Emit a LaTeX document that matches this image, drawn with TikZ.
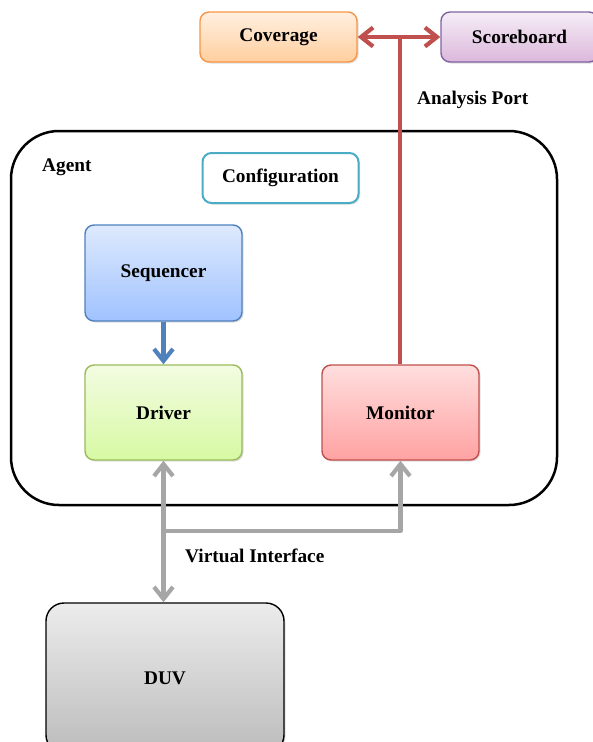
\documentclass[tikz,border=0pt]{standalone}
\usepackage{fontspec}
\setmainfont{Liberation Serif}
\usetikzlibrary{arrows.meta,shadows}
\definecolor{orgB}{HTML}{F79646}
\definecolor{purB}{HTML}{8064A2}
\definecolor{cyaB}{HTML}{4BACC6}
\definecolor{bluB}{HTML}{4F81BD}
\definecolor{grnB}{HTML}{9BBB59}
\definecolor{redB}{HTML}{C0504D}
\definecolor{gryA}{HTML}{A6A6A6}
\tikzset{
  txt/.style={font=\bfseries\fontsize{19.3}{22}\selectfont},
  blk/.style={txt, rounded corners=9pt, line width=1.4pt,
    inner sep=0pt, drop shadow={shadow xshift=1.5pt, shadow yshift=-1.5pt, opacity=0.25}},
  lbl/.style={txt, inner sep=0pt},
  barb/.tip={Straight Barb[length=12pt,width=19pt,line width=4.2pt]},
  fat/.style={line width=4.5pt, -barb},
  fatboth/.style={line width=4.5pt, barb-barb},
}
\begin{document}
\begin{tikzpicture}[x=1pt,y=-1pt]
\useasboundingbox (0,0) rectangle (593,742);
% agent container
\draw[line width=2.5pt, rounded corners=48pt] (11,131) rectangle (557,505);
\node[lbl, anchor=west] (agent) at (42,167) {Agent};
% top-level components
\node[blk, draw=orgB, top color=orange!12!white, bottom color=orange!38!white,
  minimum width=157pt, minimum height=50pt] (cov) at (278.5,37) {Coverage};
\node[blk, draw=purB, top color=violet!7!white, bottom color=violet!28!white,
  minimum width=157pt, minimum height=50pt] (sb) at (519.5,37) {Scoreboard};
\node[blk, draw=cyaB, fill=white, line width=2pt, drop shadow={opacity=0},
  minimum width=156pt, minimum height=50pt] (cfg) at (280.5,178) {Configuration};
\node[blk, draw=bluB, top color={rgb,255:red,222;green,234;blue,253}, bottom color={rgb,255:red,160;green,194;blue,255},
  minimum width=157pt, minimum height=96pt] (seq) at (163.5,273) {Sequencer};
\node[blk, draw=grnB, top color={rgb,255:red,243;green,252;blue,226}, bottom color={rgb,255:red,215;green,249;blue,163},
  minimum width=157pt, minimum height=95pt] (drv) at (163.5,412.5) {Driver};
\node[blk, draw=redB, top color={rgb,255:red,255;green,222;blue,222}, bottom color={rgb,255:red,255;green,162;blue,162},
  minimum width=157pt, minimum height=95pt] (mon) at (400.5,412.5) {Monitor};
\node[blk, draw=black, top color={rgb,255:red,236;green,236;blue,236}, bottom color={rgb,255:red,188;green,188;blue,188},
  rounded corners=18pt, minimum width=238pt, minimum height=150pt] (duv) at (165,678) {DUV};
% analysis port
\coordinate (tap) at (400,37);
\draw[redB, line width=4.5pt] (mon.north -| tap) -- (tap);
\draw[redB, fatboth] (cov.east) -- (sb.west);
\node[lbl, anchor=west] (ap) at (417,100) {Analysis Port};
% sequencer to driver
\draw[bluB, fat] (seq.south) -- (drv.north);
% virtual interface
\coordinate (br) at (163.5,531);
\draw[gryA, fatboth] (drv.south) -- (drv.south |- duv.north);
\draw[gryA, line width=4.5pt, -barb, line join=round]
  (br) -- (br -| mon.south) -- (mon.south);
\node[lbl, anchor=west] (vi) at (185,556) {Virtual Interface};
\end{tikzpicture}
\end{document}
